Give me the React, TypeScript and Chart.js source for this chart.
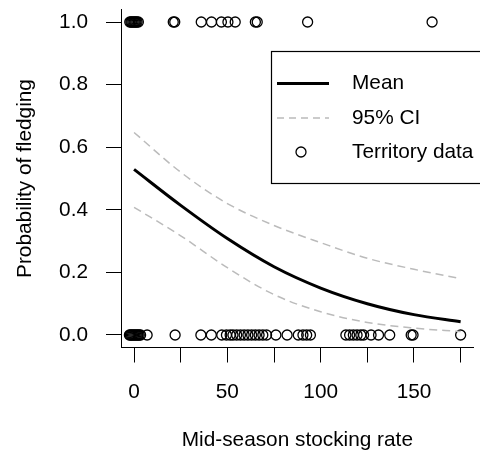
import React, { useEffect, useRef } from "react";
import { Chart, registerables } from "chart.js";

Chart.register(...registerables);

// Territory data: stocking rate of territories that fledged (y = 1) or failed (y = 0)
const fledgedX = [-2.3, -1.7, -1.2, -0.6, 0, 0.5, 1, 1.6, 2.3, 21, 21.8, 36, 41.5, 46.8, 50.3, 54.2, 65, 66, 93, 159.7];
const failedX = [
  -2.5, -2, -1.4, -0.8, -0.2, 0.4, 1, 1.6, 2.2, 2.8, 3.5, 7,
  22, 35.8, 41.4, 47, 49.5, 51.5, 53, 55, 57, 59, 61, 63, 65, 67, 69, 71, 76, 82, 88, 90.5, 92.5, 94.5,
  113.5, 115.5, 117.5, 119.5, 121.5, 123, 127, 131, 137, 148.5, 149.5, 175,
];

// Fitted curve
const curveX = [0, 25, 50, 75, 100, 125, 150, 175];
const meanY = [0.529, 0.414, 0.308, 0.218, 0.15, 0.1, 0.065, 0.042];
const upperY = [0.647, 0.52, 0.42, 0.35, 0.295, 0.245, 0.21, 0.18];
const lowerY = [0.408, 0.317, 0.215, 0.129, 0.074, 0.04, 0.022, 0.011];

const xTickValues = [0, 25, 50, 75, 100, 125, 150, 175];
const xTickLabels = ["0", "", "50", "", "100", "", "150", ""];
const yTickValues = [0, 0.2, 0.4, 0.6, 0.8, 1.0];
const yTickLabels = ["0.0", "0.2", "0.4", "0.6", "0.8", "1.0"];

const legendLabels = ["Mean", "95% CI", "Territory data"];

const FONT = "'Liberation Sans', Arial, sans-serif";
const CI_COLOR = "#bbbbbb";
const TEXT_SIZE = 20.8;

const legendPlugin = {
  id: "boxLegend",
  afterDraw(chart: any) {
    const ctx = chart.ctx as CanvasRenderingContext2D;
    ctx.save();
    ctx.fillStyle = "#ffffff";
    ctx.fillRect(271.5, 51.5, 215, 132);
    ctx.strokeStyle = "#000000";
    ctx.lineWidth = 1.2;
    ctx.strokeRect(271.5, 51.5, 215, 132);

    const rows = [83.5, 118, 152];
    ctx.beginPath();
    ctx.strokeStyle = "#000";
    ctx.lineWidth = 3;
    ctx.moveTo(277, rows[0]);
    ctx.lineTo(329, rows[0]);
    ctx.stroke();

    ctx.beginPath();
    ctx.strokeStyle = CI_COLOR;
    ctx.lineWidth = 1.5;
    ctx.setLineDash([7, 5]);
    ctx.moveTo(277, rows[1]);
    ctx.lineTo(329, rows[1]);
    ctx.stroke();
    ctx.setLineDash([]);

    ctx.beginPath();
    ctx.strokeStyle = "#000";
    ctx.lineWidth = 1.3;
    ctx.arc(301, rows[2], 5, 0, Math.PI * 2);
    ctx.stroke();

    ctx.fillStyle = "#000";
    ctx.font = `${TEXT_SIZE}px ${FONT}`;
    ctx.textBaseline = "middle";
    ctx.textAlign = "left";
    legendLabels.forEach((t, i) => ctx.fillText(t, 352, rows[i]));
    ctx.restore();
  },
};

export default function App() {
  const ref = useRef<HTMLCanvasElement | null>(null);

  useEffect(() => {
    if (!ref.current) return;
    const pts = [
      ...fledgedX.map((x) => ({ x, y: 1 })),
      ...failedX.map((x) => ({ x, y: 0 })),
    ];
    const chart = new Chart(ref.current, {
      type: "scatter",
      data: {
        datasets: [
          {
            label: legendLabels[0],
            data: curveX.map((x, i) => ({ x, y: meanY[i] })),
            showLine: true,
            borderColor: "#000",
            borderWidth: 3,
            pointRadius: 0,
            cubicInterpolationMode: "monotone",
            fill: false,
          },
          {
            label: legendLabels[1],
            data: curveX.map((x, i) => ({ x, y: upperY[i] })),
            showLine: true,
            borderColor: CI_COLOR,
            borderWidth: 1.5,
            borderDash: [8, 5],
            pointRadius: 0,
            cubicInterpolationMode: "monotone",
            fill: false,
          },
          {
            label: legendLabels[1] + " lower",
            data: curveX.map((x, i) => ({ x, y: lowerY[i] })),
            showLine: true,
            borderColor: CI_COLOR,
            borderWidth: 1.5,
            borderDash: [8, 5],
            pointRadius: 0,
            cubicInterpolationMode: "monotone",
            fill: false,
          },
          {
            label: legendLabels[2],
            data: pts,
            showLine: false,
            pointStyle: "circle",
            pointRadius: 5,
            pointBorderWidth: 1.3,
            pointBorderColor: "#000",
            pointBackgroundColor: "rgba(0,0,0,0)",
          },
        ],
      } as any,
      options: {
        animation: false,
        responsive: false,
        clip: false as any,
        layout: { padding: { top: 9.5, right: 5, left: 0, bottom: 0 } },
        plugins: {
          legend: { display: false },
          tooltip: { enabled: false },
        },
        scales: {
          x: {
            type: "linear",
            position: "bottom",
            min: -7,
            max: 182,
            afterBuildTicks: (s: any) => {
              s.ticks = xTickValues.map((v) => ({ value: v }));
            },
            afterFit: (s: any) => {
              s.height = 105.5;
              s.paddingLeft = 0;
              s.paddingRight = 0;
            },
            ticks: {
              autoSkip: false,
              maxRotation: 0,
              padding: 17,
              color: "#000",
              font: { family: FONT, size: TEXT_SIZE },
              callback: (v: any) => {
                const i = xTickValues.indexOf(Number(v));
                return i >= 0 ? xTickLabels[i] : "";
              },
            },
            grid: {
              drawOnChartArea: false,
              drawTicks: true,
              tickLength: 15,
              color: "#000",
              lineWidth: 1,
            },
            border: { display: true, color: "#000", width: 1 },
            title: {
              display: true,
              text: "Mid-season stocking rate",
              color: "#000",
              font: { family: FONT, size: TEXT_SIZE },
              padding: { top: 0, bottom: 0 },
            },
          },
          y: {
            type: "linear",
            position: "left",
            min: -0.04,
            max: 1.04,
            afterBuildTicks: (s: any) => {
              s.ticks = yTickValues.map((v) => ({ value: v }));
            },
            afterFit: (s: any) => {
              s.width = 121;
              s.paddingTop = 0;
              s.paddingBottom = 0;
            },
            ticks: {
              padding: 18,
              color: "#000",
              font: { family: FONT, size: TEXT_SIZE },
              callback: (v: any) => {
                const i = yTickValues.findIndex((t) => Math.abs(t - Number(v)) < 1e-9);
                return i >= 0 ? yTickLabels[i] : "";
              },
            },
            grid: {
              drawOnChartArea: false,
              drawTicks: true,
              tickLength: 15,
              color: "#000",
              lineWidth: 1,
            },
            border: { display: true, color: "#000", width: 1 },
            title: {
              display: true,
              text: "Probability of fledging",
              color: "#000",
              font: { family: FONT, size: TEXT_SIZE },
              padding: { top: 13, bottom: 0 },
            },
          },
        },
      },
      plugins: [legendPlugin],
    });
    return () => chart.destroy();
  }, []);

  return (
    <div style={{ position: "fixed", left: 0, top: 0, width: 480, height: 453, background: "#fff" }}>
      <canvas ref={ref} width={480} height={453} style={{ width: 480, height: 453, display: "block" }} />
    </div>
  );
}
